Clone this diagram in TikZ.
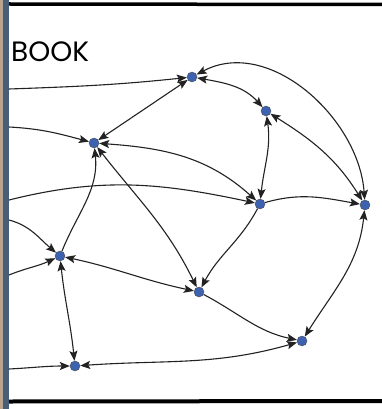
\documentclass[tikz,border=0pt]{standalone}
\usepackage{fontspec}
\newfontfamily\handfont{Poppins}
\usetikzlibrary{arrows.meta}
\definecolor{ink}{HTML}{222222}
\definecolor{dotblue}{HTML}{3D62B0}
\definecolor{slate}{HTML}{4A5D78}
\definecolor{tan}{HTML}{B9A58E}

\begin{document}
\begin{tikzpicture}[
    x=1pt, y=1pt,
    vtx/.style={circle, draw=ink!80, line width=0.4pt, fill=dotblue,
        minimum size=10pt, inner sep=0pt},
    edge/.style={ink, line width=1.1pt},
    one/.style={edge, -{Stealth[length=10pt, width=8pt, inset=2pt]}},
    two/.style={edge, {Stealth[length=10pt, width=8pt, inset=2pt]}-{Stealth[length=10pt, width=8pt, inset=2pt]}},
    title/.style={font=\handfont\fontsize{28}{28}\selectfont, text=black, inner sep=0pt},
]
\useasboundingbox (0,0) rectangle (382,-409);

% ---------------------------------------------------------------- frame
\fill[white] (0,0) rectangle (382,-409);
\fill[tan] (0,0) rectangle (3,-409);
\fill[slate] (3,0) rectangle (9,-409);
\draw[black, line width=3.5pt] (9,-4) -- (382,-4.5);
\draw[black, line width=4pt] (9,-401.5) -- (382,-401);
\node[title, anchor=base west] (book) at (11,-62) {BOOK};

% ---------------------------------------------------------------- vertices
\node[vtx] (a) at (192,-77) {};
\node[vtx] (b) at (266,-111) {};
\node[vtx] (c) at (94,-143) {};
\node[vtx] (d) at (260,-204) {};
\node[vtx] (e) at (365,-205) {};
\node[vtx] (f) at (60,-256) {};
\node[vtx] (g) at (199,-292) {};
\node[vtx] (h) at (302,-341) {};
\node[vtx] (i) at (75,-366) {};

% loose ends on the left border
\foreach \n/\y in {1/89, 2/127, 3/200, 4/220, 5/275, 6/369}{
    \coordinate (l\n) at (9,-\y);
}

% ---------------------------------------------------------------- edges
\draw[one] (l1) to[out=2, in=186] (a);
\draw[one] (l2) to[out=-3, in=165] (c);
\draw[one] (l3) to[out=14, in=168] (d);
\draw[one] (l4) to[out=-15, in=140] (f);
\draw[one] (l5) to[out=22, in=205] (f);
\draw[one] (l6) to[out=3, in=180] (i);

\draw[two] (a) -- (c);
\draw[two] (a) to[out=-10, in=132] (b);
\draw[two] (a) to[out=28, in=94] (e);
\draw[two] (b) to[out=-32, in=122] (e);
\draw[two] (b) to[out=-82, in=84] (d);
\draw[two] (c) to[out=-4, in=138] (d);
\draw[two] (c) to[out=-52, in=116] (g);
\draw[one] (f) to[out=68, in=-84] (c);
\draw[two] (f) to[out=-12, in=168] (g);
\draw[two] (f) to[out=-84, in=96] (i);
\draw[two] (i) to[out=4, in=196] (h);
\draw[one] (g) to[out=-28, in=168] (h);
\draw[one] (d) to[out=-118, in=62] (g);
\draw[one] (d) to[out=16, in=170] (e);
\draw[two] (e) to[out=-96, in=58] (h);

\end{tikzpicture}
\end{document}
